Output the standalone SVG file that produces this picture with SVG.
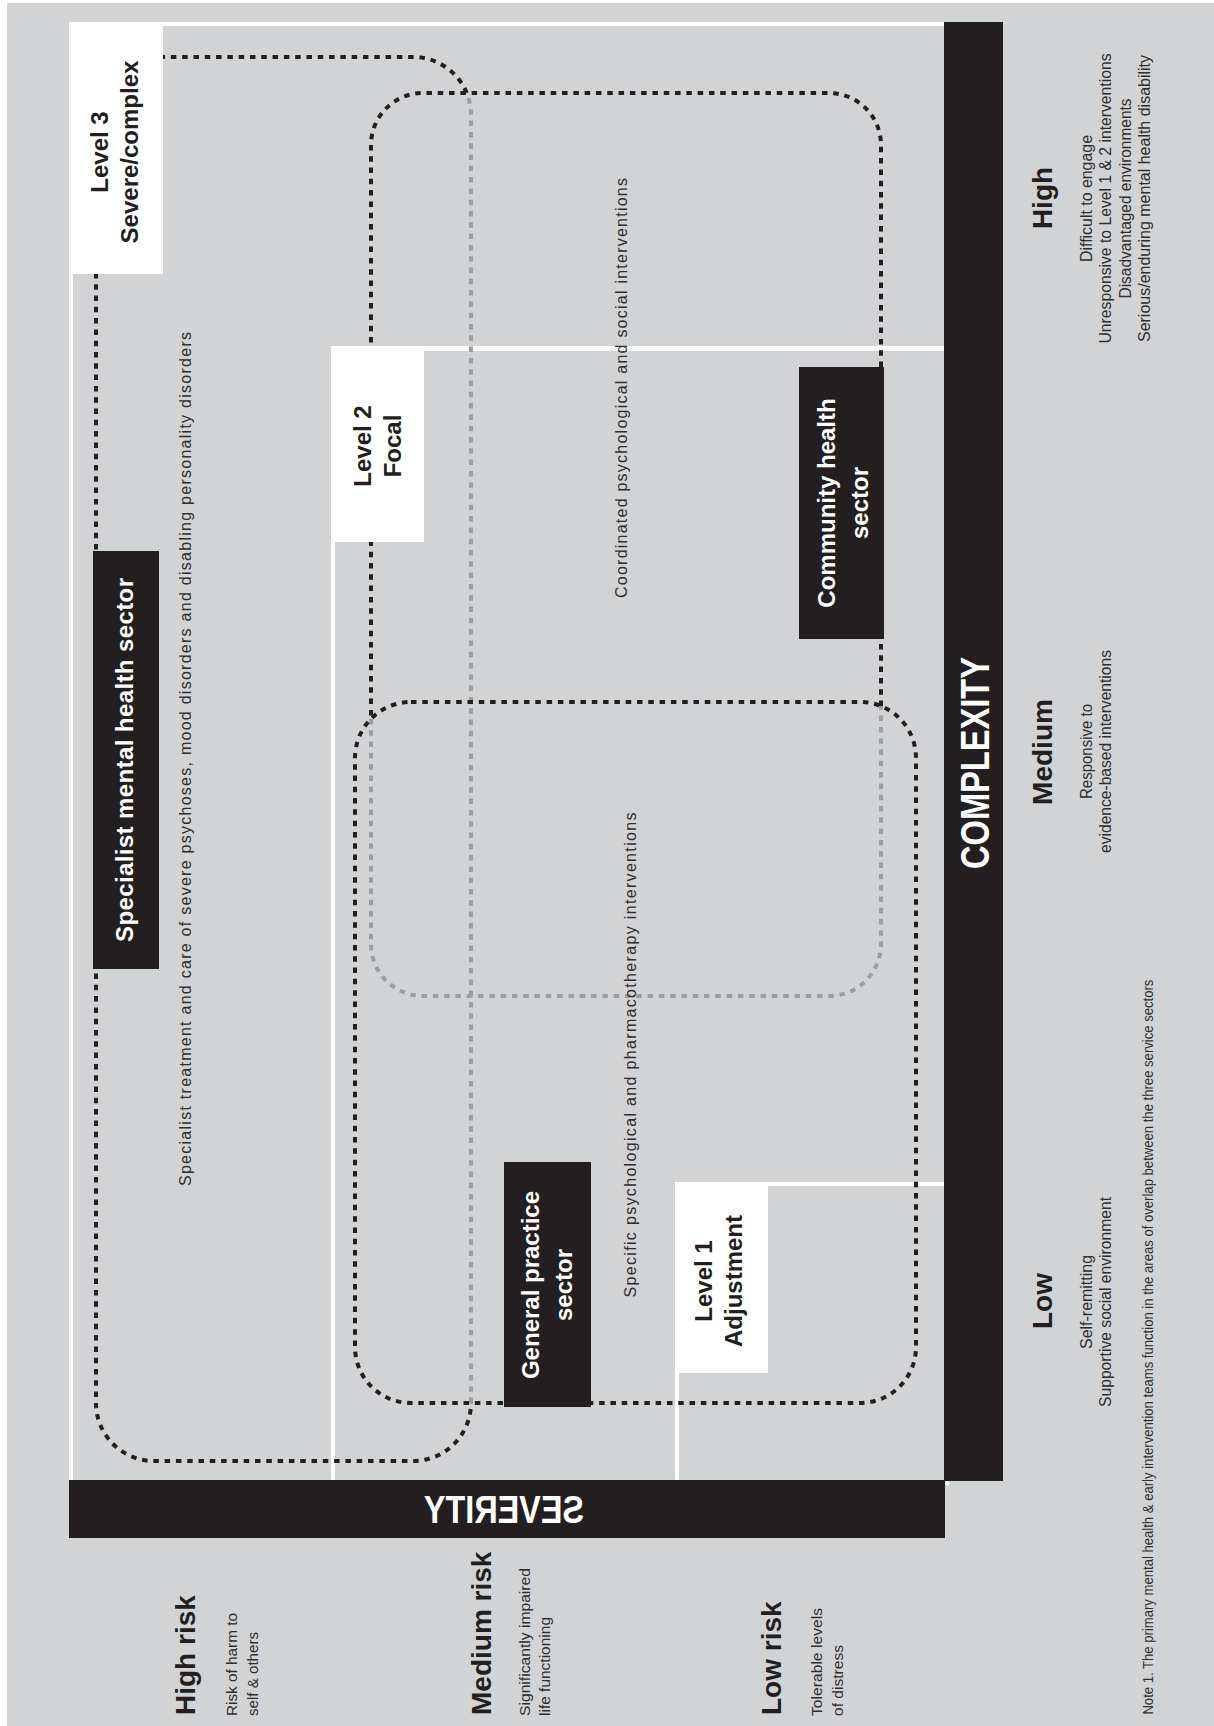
<svg xmlns="http://www.w3.org/2000/svg" width="1214" height="1726" viewBox="0 0 1214 1726">
<style>
  text { font-family: "Liberation Sans", Arial, Helvetica, sans-serif; }
  .lvl { font-weight: bold; font-size: 24px; fill: #231f20; text-anchor: middle; }
  .sec { font-weight: bold; font-size: 24px; fill: #ffffff; text-anchor: middle; }
  .axis { font-weight: bold; fill: #ffffff; text-anchor: middle; }
  .cat { font-weight: bold; font-size: 28px; fill: #231f20; }
  .mid { text-anchor: middle; }
  .start { text-anchor: start; }
  .desc { font-size: 16px; fill: #2e2e2e; }
  .risk { font-size: 15.5px; fill: #2e2e2e; text-anchor: start; }
  .body { font-size: 16px; fill: #2e2e2e; text-anchor: middle; }
  .note { font-size: 15px; fill: #2e2e2e; text-anchor: start; }
  .white { fill: #ffffff; }
  .black { fill: #231f20; }
  .dotB { fill: none; stroke: #231f20; stroke-width: 4; stroke-dasharray: 5.5 5.8; }
  .dotG { fill: none; stroke: #9c9d9f; stroke-width: 4; stroke-dasharray: 5.5 5.8; }
</style>

<rect x="0" y="0" width="1214" height="1726" fill="#ffffff"/>
<rect id="background" x="7" y="3" width="1207" height="1723" fill="#d2d3d5"/>

<!-- white level frame lines -->
<g id="level-frames">
  <rect class="white" x="69" y="22" width="875" height="4"/>
  <rect class="white" x="69" y="22" width="4" height="1458"/>
  <rect class="white" x="331" y="346" width="613" height="5"/>
  <rect class="white" x="331" y="346" width="4" height="1134"/>
  <rect class="white" x="675" y="1182" width="269" height="4"/>
  <rect class="white" x="675" y="1182" width="4" height="298"/>
  <rect class="white" x="944" y="1480" width="5" height="5"/>
</g>

<!-- sector boundaries (dotted rounded rectangles) -->
<g id="sector-boundaries">
  <g id="specialist-boundary">
    <path class="dotB" d="M 466.7 93 A 58 58 0 0 0 413 57 L 154 57 A 58 58 0 0 0 96 115 L 96 1403 A 58 58 0 0 0 154 1461 L 413 1461 A 58 58 0 0 0 471 1403"/>
    <path class="dotG" d="M 471 1403 L 471 115 A 58 58 0 0 0 466.7 93"/>
  </g>
  <g id="community-boundary">
    <path class="dotB" d="M 881 706 L 881 145 A 52 52 0 0 0 829 93 L 423 93 A 52 52 0 0 0 371 145 L 371 719"/>
    <path class="dotG" d="M 371 719 L 371 944 A 52 52 0 0 0 423 996 L 829 996 A 52 52 0 0 0 881 944 L 881 706"/>
  </g>
  <g id="gp-boundary">
    <rect class="dotB" x="355" y="702" width="561" height="701" rx="56" ry="56"/>
  </g>
</g>

<!-- Level boxes -->
<g id="level3">
  <rect class="white" x="69" y="22" width="94" height="252"/>
  <g transform="translate(108,152) rotate(-90)">
    <text class="lvl" x="0" y="0">Level 3</text>
    <text class="lvl" x="0" y="30">Severe/complex</text>
  </g>
</g>
<g id="level2">
  <rect class="white" x="331" y="346" width="93" height="196"/>
  <g transform="translate(371,446) rotate(-90)">
    <text class="lvl" x="0" y="0">Level 2</text>
    <text class="lvl" x="0" y="30">Focal</text>
  </g>
</g>
<g id="level1">
  <rect class="white" x="675" y="1182" width="93" height="191"/>
  <g transform="translate(712,1281) rotate(-90)">
    <text class="lvl" x="0" y="0">Level 1</text>
    <text class="lvl" x="0" y="30">Adjustment</text>
  </g>
</g>

<!-- Sector labels -->
<g id="specialist-sector">
  <rect class="black" x="93" y="551" width="66" height="418"/>
  <text class="sec" transform="translate(133,760) rotate(-90)" x="0" y="0" textLength="364" lengthAdjust="spacing">Specialist mental health sector</text>
</g>
<g id="community-sector">
  <rect class="black" x="799" y="367" width="85" height="272"/>
  <g transform="translate(835,503) rotate(-90)">
    <text class="sec" x="0" y="0">Community health</text>
    <text class="sec" x="0" y="33">sector</text>
  </g>
</g>
<g id="gp-sector">
  <rect class="black" x="504" y="1162" width="87" height="245"/>
  <g transform="translate(539,1285) rotate(-90)">
    <text class="sec" x="0" y="0">General practice</text>
    <text class="sec" x="0" y="33">sector</text>
  </g>
</g>

<!-- Intervention descriptions -->
<g id="specialist-interventions">
  <text class="body" transform="translate(191,759) rotate(-90)" x="0" y="0" textLength="854" lengthAdjust="spacing">Specialist treatment and care of severe psychoses, mood disorders and disabling personality disorders</text>
</g>
<g id="community-interventions">
  <text class="body" transform="translate(627,388) rotate(-90)" x="0" y="0" textLength="420" lengthAdjust="spacing">Coordinated psychological and social interventions</text>
</g>
<g id="gp-interventions">
  <text class="body" transform="translate(635.5,1055) rotate(-90)" x="0" y="0" textLength="485" lengthAdjust="spacing">Specific psychological and pharmacotherapy interventions</text>
</g>

<!-- Axes -->
<g id="complexity-axis">
  <rect class="black" x="944" y="22" width="59" height="1459"/>
  <text class="axis" transform="translate(989,763) rotate(-90)" x="0" y="0" font-size="41" textLength="212" lengthAdjust="spacingAndGlyphs">COMPLEXITY</text>
</g>
<g id="severity-axis">
  <rect class="black" x="69" y="1480" width="876" height="58"/>
  <text class="axis" transform="translate(504,1509) scale(-1,1)" x="0" y="14" font-size="39" textLength="160" lengthAdjust="spacingAndGlyphs">SEVERITY</text>
</g>

<!-- Complexity categories -->
<g id="complexity-high">
  <text class="cat mid" transform="translate(1051.5,198) rotate(-90)">High</text>
  <g transform="translate(1091.5,198.5) rotate(-90)">
    <text class="desc mid" x="0" y="0" textLength="127" lengthAdjust="spacingAndGlyphs">Difficult to engage</text>
    <text class="desc mid" x="0" y="19.5" textLength="290" lengthAdjust="spacingAndGlyphs">Unresponsive to Level 1 &amp; 2 interventions</text>
    <text class="desc mid" x="0" y="39" textLength="200" lengthAdjust="spacingAndGlyphs">Disadvantaged environments</text>
    <text class="desc mid" x="0" y="58.5" textLength="287" lengthAdjust="spacingAndGlyphs">Serious/enduring mental health disability</text>
  </g>
</g>
<g id="complexity-medium">
  <text class="cat mid" transform="translate(1051.5,752) rotate(-90)">Medium</text>
  <g transform="translate(1091.5,751.5) rotate(-90)">
    <text class="desc mid" x="0" y="0" textLength="95" lengthAdjust="spacingAndGlyphs">Responsive to</text>
    <text class="desc mid" x="0" y="19.5" textLength="203" lengthAdjust="spacingAndGlyphs">evidence-based interventions</text>
  </g>
</g>
<g id="complexity-low">
  <text class="cat mid" transform="translate(1051.5,1301) rotate(-90)">Low</text>
  <g transform="translate(1091.5,1302) rotate(-90)">
    <text class="desc mid" x="0" y="0" textLength="94" lengthAdjust="spacingAndGlyphs">Self-remitting</text>
    <text class="desc mid" x="0" y="19.5" textLength="210" lengthAdjust="spacingAndGlyphs">Supportive social environment</text>
  </g>
</g>

<!-- Severity categories -->
<g id="severity-high">
  <text class="cat start" transform="translate(195,1715) rotate(-90)">High risk</text>
  <text class="risk" transform="translate(237,1716) rotate(-90)" textLength="103" lengthAdjust="spacingAndGlyphs">Risk of harm to</text>
  <text class="risk" transform="translate(258,1716) rotate(-90)" textLength="84" lengthAdjust="spacingAndGlyphs">self &amp; others</text>
</g>
<g id="severity-medium">
  <text class="cat start" transform="translate(491,1715) rotate(-90)">Medium risk</text>
  <text class="risk" transform="translate(530,1716) rotate(-90)" textLength="148" lengthAdjust="spacingAndGlyphs">Significantly impaired</text>
  <text class="risk" transform="translate(550,1716) rotate(-90)" textLength="99" lengthAdjust="spacingAndGlyphs">life functioning</text>
</g>
<g id="severity-low">
  <text class="cat start" transform="translate(781,1715) rotate(-90)">Low risk</text>
  <text class="risk" transform="translate(821.5,1716) rotate(-90)" textLength="108" lengthAdjust="spacingAndGlyphs">Tolerable levels</text>
  <text class="risk" transform="translate(842.5,1716) rotate(-90)" textLength="71" lengthAdjust="spacingAndGlyphs">of distress</text>
</g>

<!-- Note -->
<g id="note">
  <text class="note" transform="translate(1152.5,1714.6) rotate(-90)" textLength="735" lengthAdjust="spacingAndGlyphs">Note 1. The primary mental health &amp; early intervention teams function in the areas of overlap between the three service sectors</text>
</g>
</svg>
